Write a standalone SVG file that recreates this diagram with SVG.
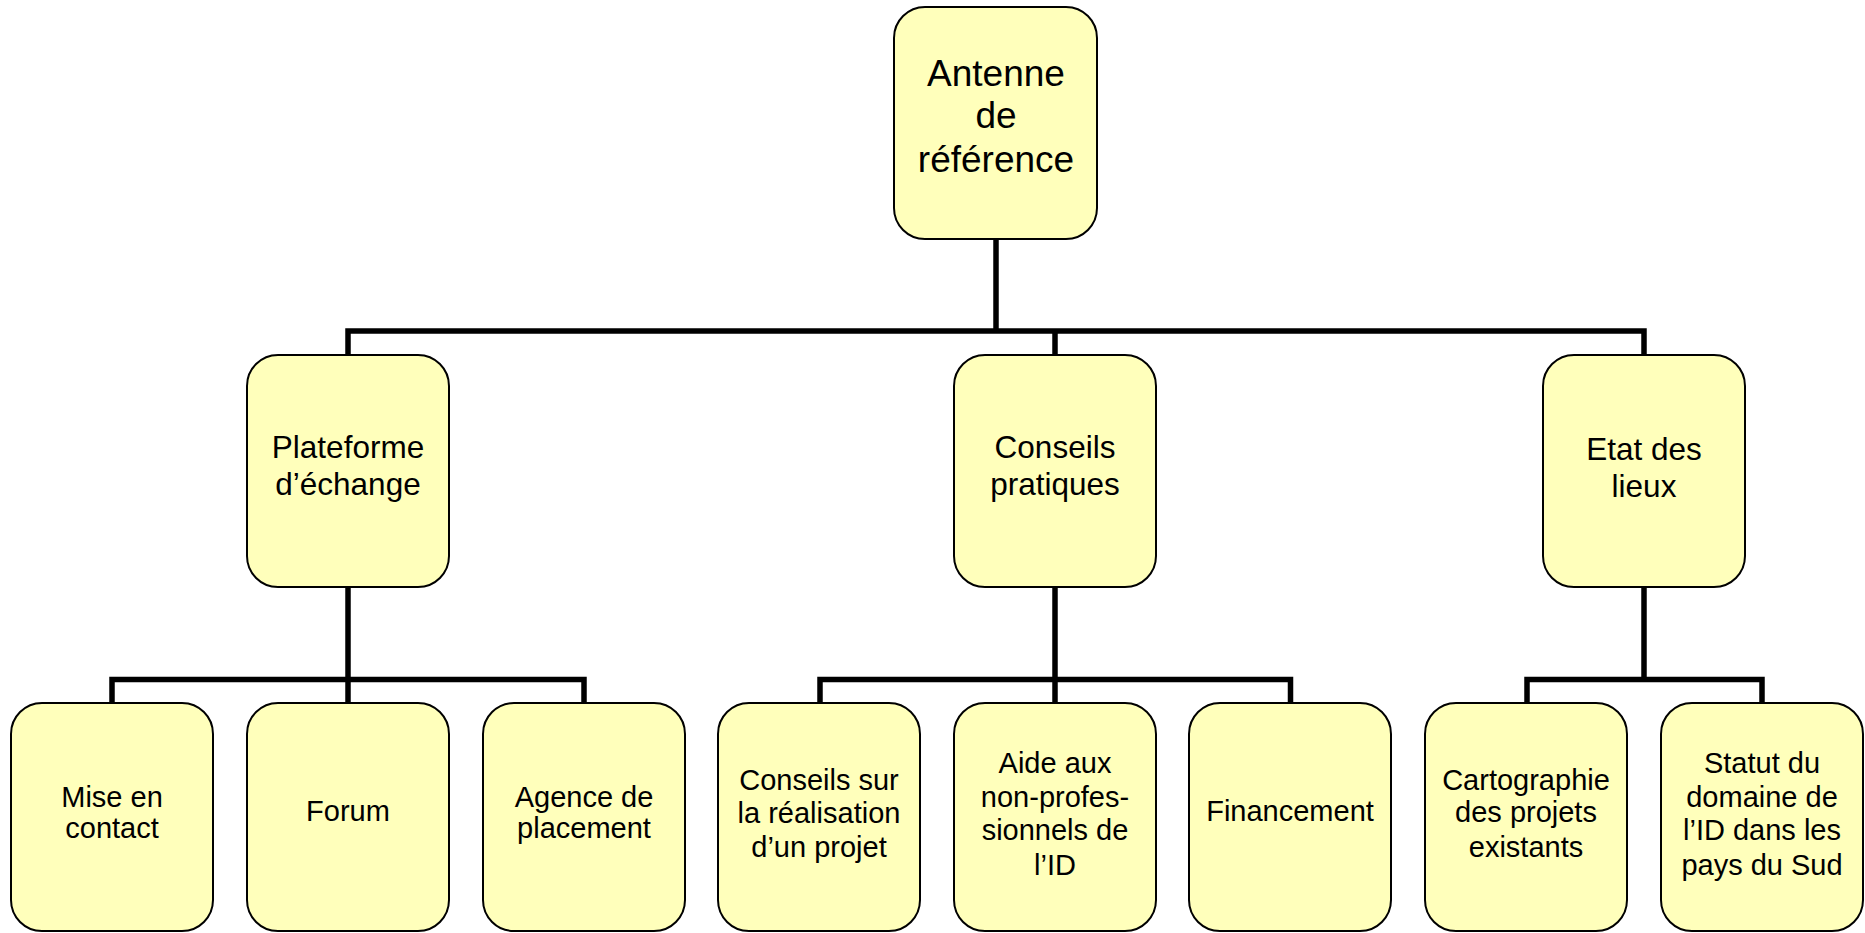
<svg xmlns="http://www.w3.org/2000/svg" width="1865" height="933" viewBox="0 0 1865 933">
<style>
.n rect{fill:#FFFFBB;stroke:#000;stroke-width:2}
.n text{font-family:"Liberation Sans",Arial,sans-serif;font-size:29px;fill:#000;text-anchor:middle}
.n text.mid{font-size:31.5px}
.n text.big{font-size:37px}
#connectors path{fill:none;stroke:#000;stroke-width:5.5;stroke-linejoin:miter;stroke-linecap:butt}
</style>
<rect width="1865" height="933" fill="#fff"/>
<g id="connectors">
<path d="M996,239 V331"/>
<path d="M348,355 V331 H1644 V355"/>
<path d="M1055,331 V355"/>
<path d="M348,587 V703"/>
<path d="M112,703 V679.5 H584 V703"/>
<path d="M1055,587 V703"/>
<path d="M820,703 V679.5 H1290.5 V703"/>
<path d="M1644,587 V679.5"/>
<path d="M1527,703 V679.5 H1762 V703"/>
</g>
<g id="n-antenne" class="n">
<rect x="894" y="7" width="203" height="232" rx="31"/>
<text class="big" x="996" y="86">Antenne</text>
<text class="big" x="996" y="128">de</text>
<text class="big" x="996" y="172">référence</text>
</g>
<g id="n-plateforme" class="n">
<rect x="247" y="355" width="202" height="232" rx="31"/>
<text class="mid" x="348" y="458">Plateforme</text>
<text class="mid" x="348" y="495">d’échange</text>
</g>
<g id="n-conseils" class="n">
<rect x="954" y="355" width="202" height="232" rx="31"/>
<text class="mid" x="1055" y="458">Conseils</text>
<text class="mid" x="1055" y="495">pratiques</text>
</g>
<g id="n-etat" class="n">
<rect x="1543" y="355" width="202" height="232" rx="31"/>
<text class="mid" x="1644" y="460">Etat des</text>
<text class="mid" x="1644" y="497">lieux</text>
</g>
<g id="n-mise" class="n">
<rect x="11" y="703" width="202" height="228" rx="31"/>
<text x="112" y="807">Mise en</text>
<text x="112" y="838">contact</text>
</g>
<g id="n-forum" class="n">
<rect x="247" y="703" width="202" height="228" rx="31"/>
<text x="348" y="821">Forum</text>
</g>
<g id="n-agence" class="n">
<rect x="483" y="703" width="202" height="228" rx="31"/>
<text x="584" y="807">Agence de</text>
<text x="584" y="838">placement</text>
</g>
<g id="n-conseils-sur" class="n">
<rect x="718" y="703" width="202" height="228" rx="31"/>
<text x="819" y="790">Conseils sur</text>
<text x="819" y="823">la réalisation</text>
<text x="819" y="857">d’un projet</text>
</g>
<g id="n-aide" class="n">
<rect x="954" y="703" width="202" height="228" rx="31"/>
<text x="1055" y="773">Aide aux</text>
<text x="1055" y="807">non-profes-</text>
<text x="1055" y="840">sionnels de</text>
<text x="1055" y="875">l’ID</text>
</g>
<g id="n-financement" class="n">
<rect x="1189" y="703" width="202" height="228" rx="31"/>
<text x="1290" y="821">Financement</text>
</g>
<g id="n-cartographie" class="n">
<rect x="1425" y="703" width="202" height="228" rx="31"/>
<text x="1526" y="790">Cartographie</text>
<text x="1526" y="822">des projets</text>
<text x="1526" y="857">existants</text>
</g>
<g id="n-statut" class="n">
<rect x="1661" y="703" width="202" height="228" rx="31"/>
<text x="1762" y="773">Statut du</text>
<text x="1762" y="807">domaine de</text>
<text x="1762" y="840">l’ID dans les</text>
<text x="1762" y="875">pays du Sud</text>
</g>
</svg>
